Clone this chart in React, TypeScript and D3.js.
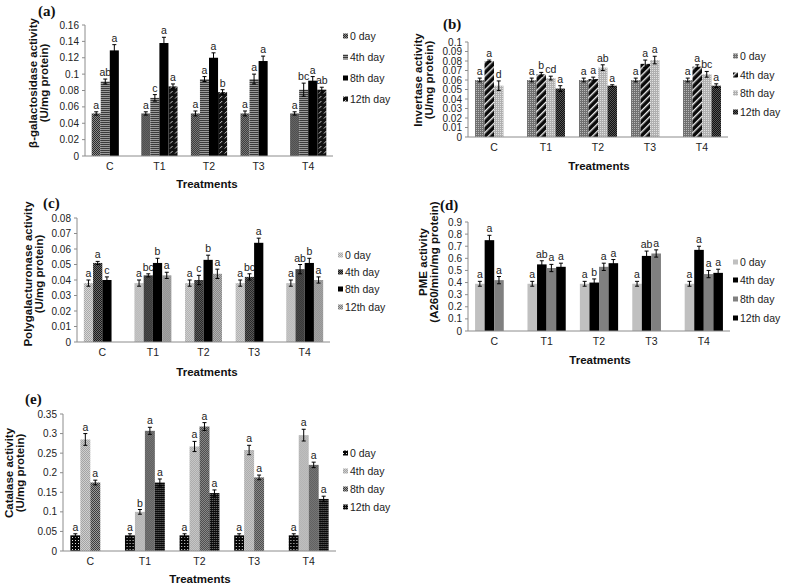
import React from "react";
import * as d3 from "d3";

const categories = ["C", "T1", "T2", "T3", "T4"];
const days = ["0 day", "4th day", "8th day", "12th day"];

// (a) beta-galactosidase
const galValues = [
  [0.052, 0.091, 0.129, null],
  [0.052, 0.071, 0.138, 0.085],
  [0.052, 0.094, 0.12, 0.078],
  [0.052, 0.094, 0.116, null],
  [0.052, 0.081, 0.092, 0.081],
];
const galErrors = [
  [0.002, 0.003, 0.007, 0],
  [0.002, 0.004, 0.007, 0.003],
  [0.003, 0.003, 0.006, 0.003],
  [0.003, 0.006, 0.006, 0],
  [0.002, 0.008, 0.005, 0.003],
];
const galLetters = [
  ["a", "ab", "a", ""],
  ["a", "c", "a", "a"],
  ["a", "a", "a", "b"],
  ["a", "a", "a", ""],
  ["a", "bc", "a", "ab"],
];
const galTicks = [0, 0.02, 0.04, 0.06, 0.08, 0.1, 0.12, 0.14, 0.16];

// (b) invertase
const invValues = [
  [0.06, 0.08, 0.054, null],
  [0.06, 0.066, 0.062, 0.051],
  [0.06, 0.061, 0.073, 0.054],
  [0.06, 0.077, 0.081, null],
  [0.06, 0.074, 0.066, 0.054],
];
const invErrors = [
  [0.002, 0.001, 0.005, 0],
  [0.002, 0.002, 0.002, 0.003],
  [0.002, 0.002, 0.003, 0.001],
  [0.002, 0.004, 0.004, 0],
  [0.002, 0.002, 0.003, 0.002],
];
const invLetters = [
  ["a", "a", "d", ""],
  ["a", "b", "cd", "a"],
  ["a", "a", "ab", "a"],
  ["a", "a", "a", ""],
  ["a", "a", "bc", "a"],
];
const invTicks = [0, 0.01, 0.02, 0.03, 0.04, 0.05, 0.06, 0.07, 0.08, 0.09, 0.1];

// (c) polygalacturonase
const pgValues = [
  [0.038, 0.051, 0.04, null],
  [0.038, 0.043, 0.051, 0.043],
  [0.038, 0.04, 0.053, 0.044],
  [0.038, 0.042, 0.064, null],
  [0.038, 0.047, 0.051, 0.04],
];
const pgErrors = [
  [0.002, 0.001, 0.002, 0],
  [0.002, 0.001, 0.003, 0.002],
  [0.002, 0.003, 0.003, 0.003],
  [0.002, 0.002, 0.003, 0],
  [0.002, 0.003, 0.003, 0.002],
];
const pgLetters = [
  ["a", "a", "c", ""],
  ["a", "bc", "b", "a"],
  ["a", "c", "b", "a"],
  ["a", "bc", "a", ""],
  ["a", "ab", "b", "a"],
];
const pgTicks = [0, 0.01, 0.02, 0.03, 0.04, 0.05, 0.06, 0.07, 0.08];

// (d) PME
const pmeValues = [
  [0.39, 0.75, 0.42, null],
  [0.39, 0.55, 0.52, 0.53],
  [0.39, 0.4, 0.53, 0.56],
  [0.39, 0.62, 0.64, null],
  [0.39, 0.67, 0.47, 0.48],
];
const pmeErrors = [
  [0.02, 0.04, 0.03, 0],
  [0.02, 0.03, 0.03, 0.03],
  [0.02, 0.03, 0.03, 0.03],
  [0.02, 0.04, 0.03, 0],
  [0.02, 0.03, 0.03, 0.03],
];
const pmeLetters = [
  ["a", "a", "a", ""],
  ["a", "ab", "a", "a"],
  ["a", "b", "a", "a"],
  ["a", "ab", "a", ""],
  ["a", "a", "a", "a"],
];
const pmeTicks = [0, 0.1, 0.2, 0.3, 0.4, 0.5, 0.6, 0.7, 0.8, 0.9];

// (e) catalase
const catValues = [
  [0.04, 0.285, 0.175, null],
  [0.04, 0.1, 0.307, 0.175],
  [0.04, 0.267, 0.318, 0.148],
  [0.04, 0.258, 0.188, null],
  [0.04, 0.296, 0.22, 0.133],
];
const catErrors = [
  [0.004, 0.015, 0.006, 0],
  [0.004, 0.006, 0.009, 0.009],
  [0.004, 0.013, 0.01, 0.008],
  [0.004, 0.012, 0.006, 0],
  [0.004, 0.015, 0.007, 0.007],
];
const catLetters = [
  ["a", "a", "a", ""],
  ["a", "b", "a", "a"],
  ["a", "a", "a", "a"],
  ["a", "a", "a", ""],
  ["a", "a", "a", "a"],
];
const catTicks = [0, 0.05, 0.1, 0.15, 0.2, 0.25, 0.3, 0.35];

const SANS = "'Liberation Sans', Arial, sans-serif";
const SERIF = "'Liberation Serif', 'Times New Roman', serif";

type PanelCfg = {
  id: string;
  tag: string;
  tagX: number;
  tagY: number;
  title: string[];
  titleX: number;
  titleY: number;
  values: (number | null)[][];
  errors: number[][];
  letters: string[][];
  ticks: number[];
  fills: string[];
  x0: number;
  x1: number;
  y0: number;
  yTop: number;
  legendX: number;
  legendY: number[];
  xTitleX: number;
  xTitleY: number;
};

const fmt = (v: number) => String(+v.toFixed(3));

function Patterns() {
  const checker = (id: string, a: string, b: string, s = 1) => (
    <pattern id={id} key={id} width={s * 2} height={s * 2} patternUnits="userSpaceOnUse">
      <rect width={s * 2} height={s * 2} fill={a} />
      <rect width={s} height={s} fill={b} />
      <rect x={s} y={s} width={s} height={s} fill={b} />
    </pattern>
  );
  const dots = (id: string, bg: string, dot: string, s = 3) => (
    <pattern id={id} key={id} width={s} height={s} patternUnits="userSpaceOnUse">
      <rect width={s} height={s} fill={bg} />
      <rect width={1} height={1} fill={dot} />
    </pattern>
  );
  return (
    <defs>
      {checker("a0", "#2a2a2a", "#8a8a8a")}
      <pattern id="a4" width={2} height={2} patternUnits="userSpaceOnUse">
        <rect width={2} height={2} fill="#9a9a9a" />
        <rect width={2} height={1} fill="#3a3a3a" />
      </pattern>
      <pattern id="a12" width={5} height={5} patternUnits="userSpaceOnUse">
        <rect width={5} height={5} fill="#111" />
        <line x1={0.5} y1={3.5} x2={3} y2={1} stroke="#ddd" strokeWidth={0.9} />
      </pattern>
      {dots("b0", "#707070", "#b8b8b8", 2)}
      <pattern id="b4" width={5} height={5} patternUnits="userSpaceOnUse" patternTransform="rotate(45)">
        <rect width={5} height={5} fill="#0a0a0a" />
        <rect width={1.4} height={5} fill="#eee" />
      </pattern>
      {dots("b8", "#b0b0b0", "#e0e0e0", 2)}
      {checker("b12", "#111", "#555")}
      {checker("c0", "#a8a8a8", "#d8d8d8")}
      {checker("c4", "#1a1a1a", "#6a6a6a")}
      {checker("c12", "#7a7a7a", "#bdbdbd")}
      {dots("e0", "#050505", "#e0e0e0", 3)}
      {checker("e4", "#a4a4a4", "#cfcfcf")}
      {checker("e8", "#3c3c3c", "#9a9a9a")}
      {dots("e12", "#0a0a0a", "#777", 2)}
    </defs>
  );
}

function Panel({ cfg }: { cfg: PanelCfg }) {
  const yMax = cfg.ticks[cfg.ticks.length - 1];
  const y = d3.scaleLinear().domain([0, yMax]).range([cfg.y0, cfg.yTop]);
  const x = d3.scaleBand<string>().domain(categories).range([cfg.x0, cfg.x1]).padding(0);
  const bw = x.bandwidth();
  const gw = bw * 0.73;
  const inner = d3
    .scaleBand<string>()
    .domain(days)
    .range([(bw - gw) / 2, (bw + gw) / 2])
    .padding(0);
  const sw = inner.bandwidth();

  return (
    <g>
      <text x={cfg.tagX} y={cfg.tagY} fontFamily={SERIF} fontWeight="bold" fontSize={15} fill="#111">
        {cfg.tag}
      </text>
      {/* y axis */}
      <line x1={cfg.x0} x2={cfg.x0} y1={cfg.yTop} y2={cfg.y0} stroke="#8c8c8c" />
      {cfg.ticks.map((t) => (
        <g key={t}>
          <line x1={cfg.x0 - 3} x2={cfg.x0} y1={y(t)} y2={y(t)} stroke="#8c8c8c" />
          <text
            x={cfg.x0 - 6}
            y={y(t)}
            dy="0.35em"
            textAnchor="end"
            fontFamily={SANS}
            fontSize={10}
            fill="#222"
          >
            {fmt(t)}
          </text>
        </g>
      ))}
      {/* bars */}
      {categories.map((c, ci) => (
        <g key={c} transform={`translate(${x(c)},0)`}>
          {days.map((d, di) => {
            const v = cfg.values[ci][di];
            if (v == null) return null;
            const e = cfg.errors[ci][di];
            const bx = inner(d)!;
            const cx = bx + sw / 2;
            return (
              <g key={d}>
                <rect x={bx} y={y(v)} width={sw} height={cfg.y0 - y(v)} fill={cfg.fills[di]} />
                <line x1={cx} x2={cx} y1={y(v - e)} y2={y(v + e)} stroke="#000" strokeWidth={1} />
                <line x1={cx - 2} x2={cx + 2} y1={y(v + e)} y2={y(v + e)} stroke="#000" />
                <line x1={cx - 2} x2={cx + 2} y1={y(v - e)} y2={y(v - e)} stroke="#000" />
                <text
                  x={cx}
                  y={y(v + e) - 3}
                  textAnchor="middle"
                  fontFamily={SANS}
                  fontSize={10.5}
                  fill="#222"
                >
                  {cfg.letters[ci][di]}
                </text>
              </g>
            );
          })}
          <text
            x={bw / 2}
            y={cfg.y0 + 14}
            textAnchor="middle"
            fontFamily={SANS}
            fontSize={10.5}
            fill="#222"
          >
            {c}
          </text>
        </g>
      ))}
      {/* x axis */}
      <line x1={cfg.x0} x2={cfg.x1} y1={cfg.y0} y2={cfg.y0} stroke="#8c8c8c" />
      {/* axis titles */}
      <text
        transform={`translate(${cfg.titleX},${cfg.titleY}) rotate(-90)`}
        textAnchor="middle"
        fontFamily={SANS}
        fontWeight="bold"
        fontSize={11.5}
        fill="#111"
      >
        {cfg.title.map((t, i) => (
          <tspan key={i} x={0} dy={i === 0 ? 0 : 11}>
            {t}
          </tspan>
        ))}
      </text>
      <text
        x={cfg.xTitleX}
        y={cfg.xTitleY}
        textAnchor="middle"
        fontFamily={SANS}
        fontWeight="bold"
        fontSize={11.5}
        fill="#111"
      >
        Treatments
      </text>
      {/* legend */}
      {days.map((d, i) => (
        <g key={d} transform={`translate(${cfg.legendX},${cfg.legendY[i]})`}>
          <rect x={0} y={-2.5} width={5} height={5} fill={cfg.fills[i]} />
          <text x={7} y={0} dy="0.35em" fontFamily={SANS} fontSize={10.5} fill="#222">
            {d}
          </text>
        </g>
      ))}
    </g>
  );
}

const panels: PanelCfg[] = [
  {
    id: "a",
    tag: "(a)",
    tagX: 38,
    tagY: 16,
    title: ["β-galactosidase activity", "(U/mg protein)"],
    titleX: 37,
    titleY: 83,
    values: galValues,
    errors: galErrors,
    letters: galLetters,
    ticks: galTicks,
    fills: ["url(#a0)", "url(#a4)", "#000", "url(#a12)"],
    x0: 85,
    x1: 333,
    y0: 156,
    yTop: 25,
    legendX: 343,
    legendY: [36, 57, 78, 99],
    xTitleX: 207,
    xTitleY: 188,
  },
  {
    id: "b",
    tag: "(b)",
    tagX: 443,
    tagY: 29,
    title: ["Invertase activity", "(U/mg protein)"],
    titleX: 422,
    titleY: 80,
    values: invValues,
    errors: invErrors,
    letters: invLetters,
    ticks: invTicks,
    fills: ["url(#b0)", "url(#b4)", "url(#b8)", "url(#b12)"],
    x0: 468,
    x1: 728,
    y0: 137,
    yTop: 42,
    legendX: 733,
    legendY: [56, 75, 93, 112],
    xTitleX: 599,
    xTitleY: 170,
  },
  {
    id: "c",
    tag: "(c)",
    tagX: 43,
    tagY: 208,
    title: ["Polygalacturonase activity", "(U/mg protein)"],
    titleX: 32,
    titleY: 274,
    values: pgValues,
    errors: pgErrors,
    letters: pgLetters,
    ticks: pgTicks,
    fills: ["url(#c0)", "url(#c4)", "#000", "url(#c12)"],
    x0: 77,
    x1: 330,
    y0: 342,
    yTop: 218,
    legendX: 338,
    legendY: [255, 272, 289, 307],
    xTitleX: 207,
    xTitleY: 376,
  },
  {
    id: "d",
    tag: "(d)",
    tagX: 440,
    tagY: 210,
    title: ["PME activity", "(A260/min/mg protein)"],
    titleX: 427,
    titleY: 262,
    values: pmeValues,
    errors: pmeErrors,
    letters: pmeLetters,
    ticks: pmeTicks,
    fills: ["#c0c0c0", "#000", "#808080", "#000"],
    x0: 468,
    x1: 730,
    y0: 331,
    yTop: 222,
    legendX: 733,
    legendY: [262, 280, 299, 318],
    xTitleX: 600,
    xTitleY: 364,
  },
  {
    id: "e",
    tag: "(e)",
    tagX: 25,
    tagY: 404,
    title: ["Catalase activity", "(U/mg protein)"],
    titleX: 13,
    titleY: 473,
    values: catValues,
    errors: catErrors,
    letters: catLetters,
    ticks: catTicks,
    fills: ["url(#e0)", "url(#e4)", "url(#e8)", "url(#e12)"],
    x0: 63,
    x1: 336,
    y0: 551,
    yTop: 414,
    legendX: 343,
    legendY: [453, 471, 489, 507],
    xTitleX: 200,
    xTitleY: 583,
  },
];

export default function App() {
  return (
    <svg
      width={793}
      height={588}
      style={{ position: "absolute", left: 0, top: 0, background: "#fff" }}
    >
      <Patterns />
      {panels.map((p) => (
        <Panel key={p.id} cfg={p} />
      ))}
    </svg>
  );
}
